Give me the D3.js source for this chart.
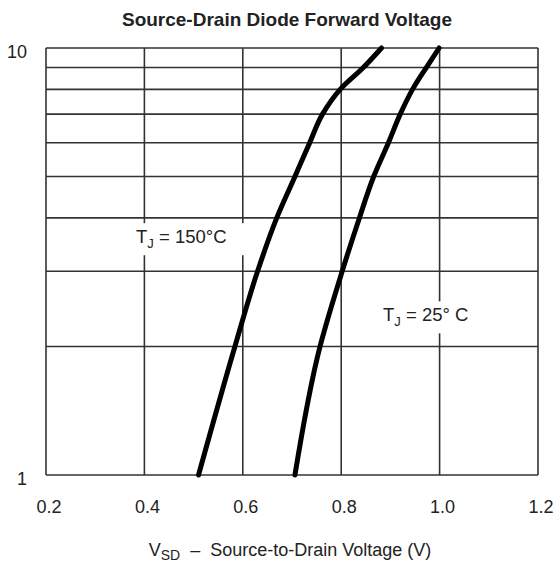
<!DOCTYPE html>
<html>
<head>
<meta charset="utf-8">
<script src="https://cdn.jsdelivr.net/npm/d3@7"></script>
<style>
  body { margin: 0; background: #fff; }
  text { font-family: "Liberation Sans", Arial, sans-serif; fill: #222; }
</style>
</head>
<body>
<div id="chart"></div>
<script>
// data
const vTicks = [0.2, 0.4, 0.6, 0.8, 1.0, 1.2];
const iLabels = [1, 10];
const iGrid = [1, 2, 3, 4, 5, 6, 7, 8, 9, 10];

const is150 = [1, 2, 3, 4, 5, 6, 7, 8, 9, 10];
const vsd150 = [0.510, 0.584, 0.630, 0.669, 0.706, 0.736, 0.762, 0.798, 0.845, 0.882];
const is25 = [1, 2, 3, 4, 5, 6, 7, 8, 9, 10];
const vsd25 = [0.706, 0.757, 0.802, 0.837, 0.866, 0.896, 0.920, 0.945, 0.973, 0.999];

// label anchors (V, I)
const label150 = [0.383, 3.49];
const label25 = [0.885, 2.29];

const width = 559, height = 568;
const margin = { top: 48, right: 21, bottom: 93, left: 46 };
const w = width - margin.left - margin.right;
const h = height - margin.top - margin.bottom;

const svg = d3.select('#chart').append('svg')
    .attr('width', width)
    .attr('height', height);

// title
svg.append('text')
    .attr('x', 287).attr('y', 26)
    .attr('text-anchor', 'middle')
    .style('font-size', '19px').style('font-weight', 'bold')
    .text('Source-Drain Diode Forward Voltage');

const g = svg.append('g')
    .attr('transform', `translate(${margin.left}, ${margin.top})`);

const x = d3.scaleLinear().domain([0.2, 1.2]).range([0, w]);
const y = d3.scaleLog().domain([1, 10]).range([h, 0]);

// grid
g.selectAll('.hgrid').data(iGrid).enter().append('line')
    .attr('x1', 0).attr('x2', w)
    .attr('y1', d => y(d)).attr('y2', d => y(d))
    .attr('stroke', '#333').attr('stroke-width', 1.6);
g.selectAll('.vgrid').data(vTicks).enter().append('line')
    .attr('y1', 0).attr('y2', h)
    .attr('x1', d => x(d)).attr('x2', d => x(d))
    .attr('stroke', '#333').attr('stroke-width', 1.6);

// tick labels
g.selectAll('.xl').data(vTicks).enter().append('text')
    .attr('x', d => x(d) + 3).attr('y', h + 38)
    .attr('text-anchor', 'middle')
    .style('font-size', '18px')
    .text(d => d3.format('.1f')(d));
g.selectAll('.yl').data(iLabels).enter().append('text')
    .attr('x', -19).attr('y', d => y(d) + 9.5)
    .attr('text-anchor', 'end')
    .style('font-size', '18px')
    .text(d => d);

// label boxes (white, they break the grid)
function label(pos, txt, bw) {
    const px = x(pos[0]), py = y(pos[1]);
    g.append('rect')
        .attr('x', px - 8).attr('y', py - 20)
        .attr('width', bw).attr('height', 32)
        .attr('fill', '#fff');
    const t = g.append('text').attr('x', px).attr('y', py)
        .style('font-size', '18.5px');
    t.append('tspan').text('T');
    t.append('tspan').attr('dy', 5).style('font-size', '13px').text('J');
    t.append('tspan').attr('dy', -5).text(txt);
}
label(label150, ' = 150°C', 116);
label(label25, ' = 25° C', 102);

// curves
const line = d3.line()
    .x(d => x(d[0])).y(d => y(d[1]))
    .curve(d3.curveMonotoneY);

g.append('path')
    .datum(d3.zip(vsd150, is150))
    .attr('d', line)
    .attr('fill', 'none').attr('stroke', '#000')
    .attr('stroke-width', 5).attr('stroke-linecap', 'round');
g.append('path')
    .datum(d3.zip(vsd25, is25))
    .attr('d', line)
    .attr('fill', 'none').attr('stroke', '#000')
    .attr('stroke-width', 5).attr('stroke-linecap', 'round');

// axis title
const at = svg.append('text')
    .attr('x', 290).attr('y', 556)
    .attr('text-anchor', 'middle')
    .style('font-size', '18px')
    .style('white-space', 'pre');
at.append('tspan').text('V');
at.append('tspan').attr('dy', 4).style('font-size', '14px').text('SD');
at.append('tspan').attr('dy', -4).text('  –  Source-to-Drain Voltage (V)');
</script>
</body>
</html>
